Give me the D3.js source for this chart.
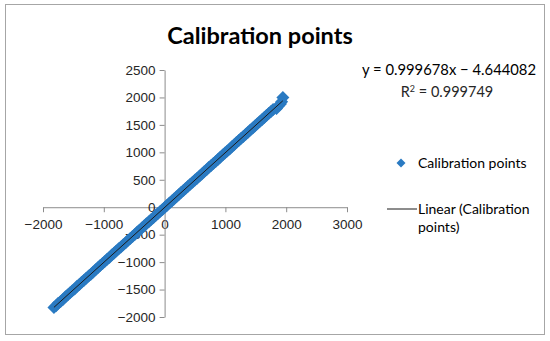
<!DOCTYPE html>
<html>
<head>
<meta charset="utf-8">
<script src="https://cdn.jsdelivr.net/npm/d3@7"></script>
<style>
  body { margin: 0; background: #fff; }
  svg { display: block; font-family: Lato, "Open Sans", sans-serif; }
  .axis path, .axis line { stroke: #8c8c8c; }
  .axis text { fill: #262626; font-size: 13.5px; }
</style>
</head>
<body>
<svg width="550" height="341"></svg>
<script>
// calibration measurements (reference vs measured)
var xVals = [-1820, -1785, -1750, -1710, -1672, -1630, -1595, -1555, -1518, -1480,
  -1440, -1402, -1365, -1325, -1290, -1250, -1212, -1175, -1135, -1098,
  -1060, -1020, -985, -945, -908, -870, -830, -795, -755, -718,
  -680, -640, -605, -565, -528, -490, -450, -415, -375, -338,
  -300, -260, -225, -185, -148, -110, -70, -35, 5, 42,
  80, 120, 155, 195, 232, 270, 310, 345, 385, 422,
  460, 500, 535, 575, 612, 650, 690, 725, 765, 802,
  840, 880, 915, 955, 992, 1030, 1070, 1105, 1145, 1182,
  1220, 1260, 1295, 1335, 1372, 1410, 1450, 1485, 1525, 1562,
  1600, 1640, 1675, 1712, 1750, 1785, 1840, 1875, 1905, 1925, 1945];
var yVals = [-1826, -1795, -1748, -1718, -1680, -1633, -1601, -1560, -1522, -1490,
  -1442, -1410, -1368, -1331, -1295, -1252, -1220, -1178, -1140, -1105,
  -1061, -1027, -990, -947, -915, -872, -836, -799, -758, -726,
  -683, -646, -608, -570, -532, -497, -452, -421, -379, -344,
  -303, -266, -228, -190, -150, -116, -74, -41, 0, 36,
  77, 113, 150, 192, 225, 266, 304, 341, 380, 417,
  453, 497, 529, 571, 606, 646, 684, 722, 758, 798,
  834, 876, 909, 952, 986, 1026, 1063, 1101, 1139, 1178,
  1214, 1256, 1289, 1331, 1366, 1406, 1444, 1481, 1519, 1558,
  1594, 1636, 1669, 1708, 1744, 1780, 1800, 1850, 1880, 1920, 2000];

var xTicks = [-2000, -1000, 0, 1000, 2000, 3000];
var yTicks = [-2000, -1500, -1000, -500, 0, 500, 1000, 1500, 2000, 2500];

// trendline from the chart
var slope = 0.999678;
var intercept = -4.644082;

var seriesName = "Calibration points";
var trendName = ["Linear (Calibration", "points)"];

var blue = "#2a7ac2";

var svg = d3.select("svg");

// outer frame
svg.append("rect")
  .attr("x", 5.5).attr("y", 4.5)
  .attr("width", 539).attr("height", 330)
  .attr("fill", "#fff")
  .attr("stroke", "#a6a6a6");

// title
svg.append("text")
  .attr("x", 260).attr("y", 44)
  .attr("text-anchor", "middle")
  .attr("font-size", "23.5px")
  .attr("font-weight", "bold")
  .attr("fill", "#000")
  .text("Calibration points");

// scales
var xscale = d3.scaleLinear().domain([-2000, 3000]).range([43, 347]);
var yscale = d3.scaleLinear().domain([-2000, 2500]).range([317, 70]);

// axes
var fmt = d3.format("d");
var xaxis = d3.axisBottom(xscale).tickValues(xTicks).tickFormat(fmt).tickSize(5).tickPadding(7).tickSizeOuter(0);
var yaxis = d3.axisLeft(yscale).tickValues(yTicks).tickFormat(fmt).tickSize(5).tickPadding(4).tickSizeOuter(0);

svg.append("g")
  .attr("class", "axis")
  .attr("transform", "translate(0," + yscale(0) + ")")
  .call(xaxis);

svg.append("g")
  .attr("class", "axis")
  .attr("transform", "translate(" + xscale(0) + ",0)")
  .call(yaxis);

// points
var diamond = "M0,-6.5L6.5,0L0,6.5L-6.5,0Z";
var pts = xVals.map(function(x, i) { return { x: x, y: yVals[i] }; });

svg.append("g")
  .selectAll("path")
  .data(pts)
  .enter().append("path")
    .attr("d", diamond)
    .attr("transform", function(d) { return "translate(" + xscale(d.x) + "," + yscale(d.y) + ")"; })
    .attr("fill", blue);

// linear trendline
var xmin = d3.min(xVals), xmax = d3.max(xVals);
svg.append("line")
  .attr("x1", xscale(xmin)).attr("y1", yscale(slope * xmin + intercept))
  .attr("x2", xscale(xmax)).attr("y2", yscale(slope * xmax + intercept))
  .attr("stroke", "#1a1a1a")
  .attr("stroke-width", 1);

// equation + r squared
svg.append("text")
  .attr("x", 449).attr("y", 75)
  .attr("text-anchor", "middle")
  .attr("font-size", "14.8px")
  .attr("fill", "#000")
  .text("y = 0.999678x \u2212 4.644082");

var r2 = svg.append("text")
  .attr("x", 447).attr("y", 97)
  .attr("text-anchor", "middle")
  .attr("font-size", "14.5px")
  .attr("fill", "#262626");
r2.append("tspan").text("R");
r2.append("tspan").attr("dy", -5).attr("font-size", "9px").text("2");
r2.append("tspan").attr("dy", 5).text(" = 0.999749");

// legend
var legend = svg.append("g").attr("font-size", "14px").attr("fill", "#000");

legend.append("path")
  .attr("d", "M0,-4.5L4.5,0L0,4.5L-4.5,0Z")
  .attr("transform", "translate(401,163)")
  .attr("fill", blue);
legend.append("text").attr("x", 418).attr("y", 168).text(seriesName);

legend.append("line")
  .attr("x1", 387).attr("x2", 417)
  .attr("y1", 209).attr("y2", 209)
  .attr("stroke", "#1a1a1a");
legend.selectAll("text.trend")
  .data(trendName)
  .enter().append("text")
    .attr("class", "trend")
    .attr("x", 418)
    .attr("y", function(d, i) { return 214 + i * 18; })
    .text(function(d) { return d; });
</script>
</body>
</html>
